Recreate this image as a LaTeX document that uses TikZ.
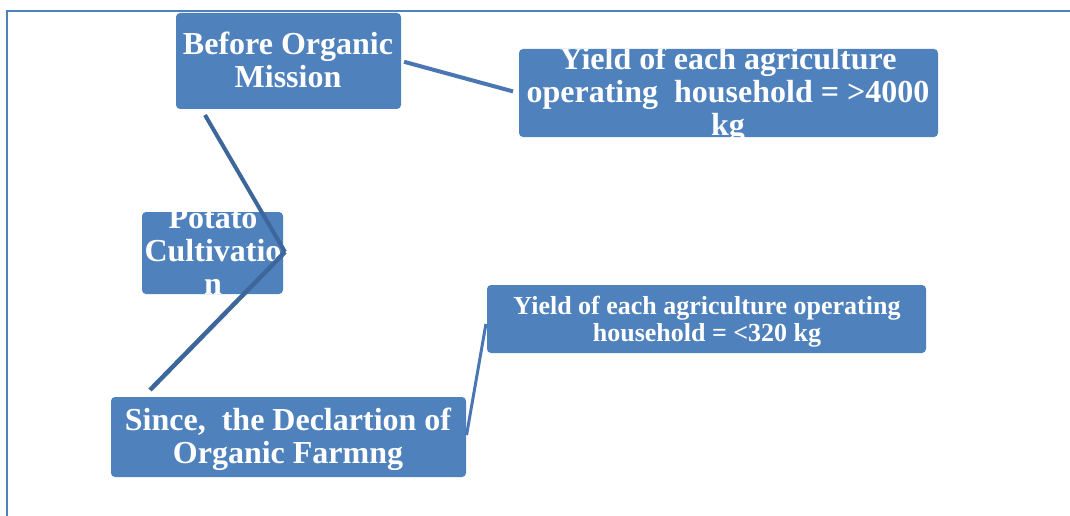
\documentclass[tikz,border=0pt]{standalone}
\usepackage{fontspec}
\setmainfont{Liberation Serif}
\definecolor{boxblue}{HTML}{4F81BD}
\definecolor{linedark}{HTML}{3D679B}
\definecolor{linemid}{HTML}{4A77B3}
\tikzset{
  box/.style={draw=none, fill=boxblue, rounded corners=4pt, inner sep=0pt},
  bigtxt/.style={text=white, align=center, inner sep=0pt, font=\bfseries\fontsize{32}{33}\selectfont},
  smalltxt/.style={text=white, align=center, inner sep=0pt, font=\bfseries\fontsize{26}{27}\selectfont},
  conndark/.style={draw=linedark, line width=4pt},
  connmid/.style={draw=linemid, line width=4pt},
  frameline/.style={draw=boxblue, line width=2pt}
}
\begin{document}
\begin{tikzpicture}[x=1pt, y=-1pt]
\useasboundingbox (0,0) rectangle (1070,516);
% frame
\coordinate (f1) at (7,516);
\coordinate (f2) at (7,11);
\coordinate (f3) at (1070,11);
\draw[frameline] (f1) -- (f2) -- (f3);
% boxes
\node[box, minimum width=225pt, minimum height=96pt] (before) at (288.5,61) {};
\node[box, minimum width=419pt, minimum height=88pt] (tr) at (728.5,93) {};
\node[box, minimum width=141pt, minimum height=82pt] (potato) at (212.5,253) {};
\node[box, minimum width=355pt, minimum height=80pt] (since) at (288.5,437) {};
\node[box, minimum width=439pt, minimum height=68pt] (lr) at (706.5,319) {};
% texts
\node[bigtxt] (beforetext) at (288,60) {Before Organic\\Mission};
\begin{scope}
\clip[rounded corners=4pt] (tr.south west) rectangle (tr.north east);
\node[bigtxt] (trtext) at (728,94.5) {Yield of each agriculture\\operating\ \ household = >4000\\kg};
\end{scope}
\begin{scope}
\clip[rounded corners=4pt] (potato.south west) rectangle (potato.north east);
\node[bigtxt] (potatotext) at (213,251) {Potato\\Cultivatio\\n};
\end{scope}
\node[bigtxt] (sincetext) at (288,439) {Since,\ \ the Declartion of\\Organic Farmng};
\node[smalltxt] (lrtext) at (707,321.5) {Yield of each agriculture operating\\household = <320 kg};
% connectors
\coordinate (b1) at (205,115);
\coordinate (s1) at (150,390);
\coordinate (pe) at (285,252);
\draw[connmid, shorten <=3pt, shorten >=6pt] (before.east) -- (tr.west);
\draw[conndark] (b1) -- (pe);
\draw[conndark, line width=4.5pt] (pe) -- (s1);
\draw[connmid, line width=3pt, shorten <=2pt, shorten >=5pt] (since.east) -- (lr.west);
\end{tikzpicture}
\end{document}
